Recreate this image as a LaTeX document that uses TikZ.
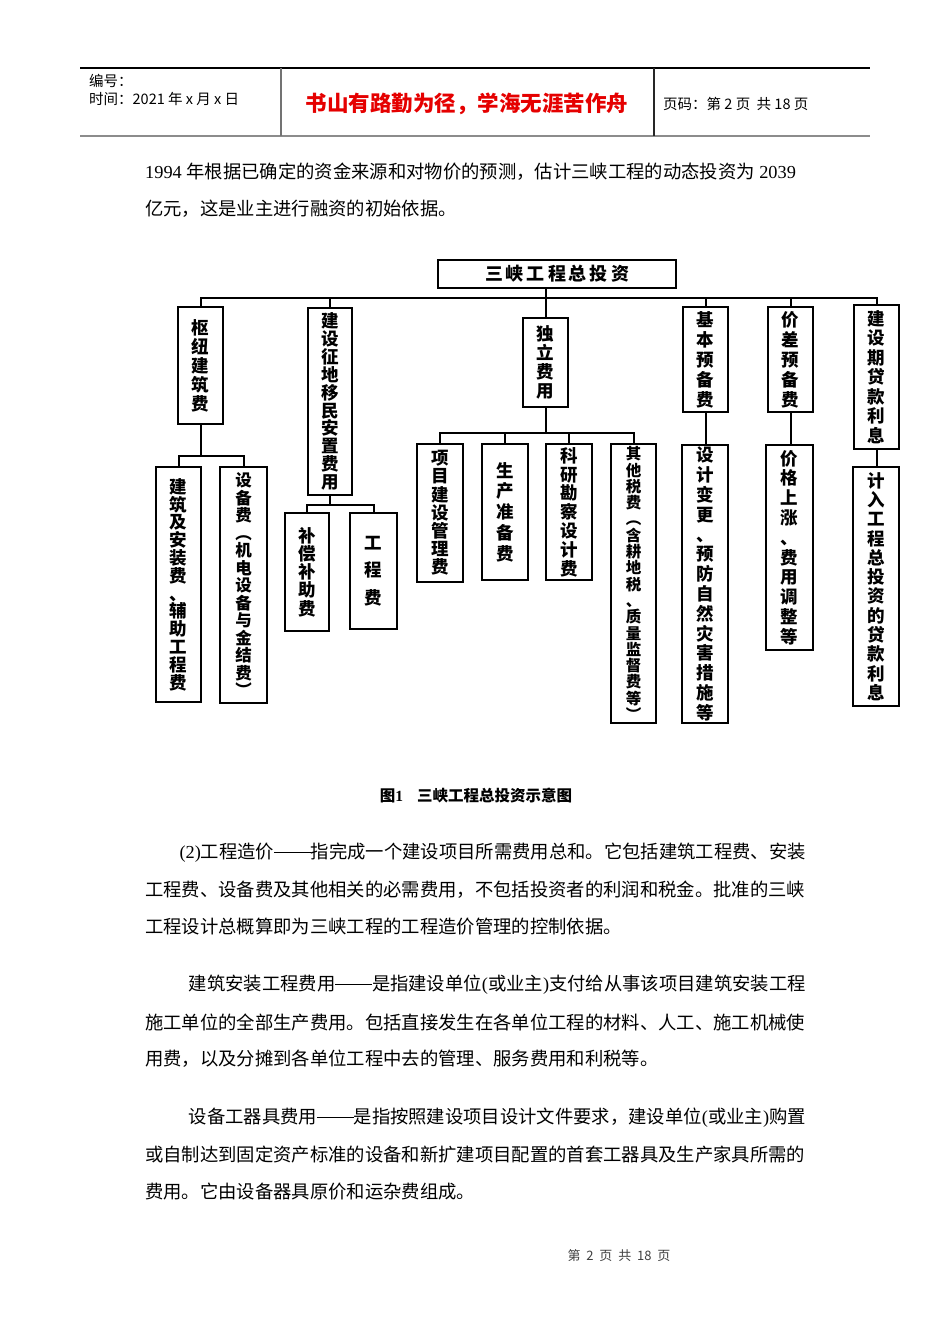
\documentclass[tikz,border=0pt]{standalone}
\usepackage{fontspec}
\setmainfont{Noto Sans CJK SC}
\newfontfamily\ser{Liberation Serif}
\newcommand{\ldash}{\makebox[2em]{\rule[0.32em]{2em}{0.055em}}}
\newcommand{\tightls}{\lineskiplimit-20pt\relax}
\begin{document}
\begin{tikzpicture}[x=1pt,y=-1pt,
  bx/.style={draw, line width=2pt, inner sep=0pt, align=center},
  lsp/.style={font=\bfseries\fontsize{17.5}{#1}\selectfont\tightls},
  lsq/.style 2 args={font=\bfseries\fontsize{#1}{#2}\selectfont\tightls},
  ln/.style={line width=2pt},
  bt/.style={inner sep=0pt, font=\fontsize{18.33}{22}\selectfont},
  hd/.style={inner sep=0pt, anchor=west, font=\fontsize{14.5}{17}\selectfont}]
\useasboundingbox (0,0) rectangle (950,1344);
\fill[white] (0,0) rectangle (950,1344);

% ---------- page header ----------
\draw[line width=1.2pt] (80,68) -- (870,68);
\draw[line width=2.2pt, black!45] (80,136) -- (870,136);
\draw[line width=1.2pt, black!55] (281,68) -- (281,136);
\draw[line width=1.2pt, black!85] (654,68) -- (654,136);
\node[hd] (h1) at (89,81) {编号：};
\node[hd] (h2) at (89,99) {时间：2021 年 x 月 x 日};
\node[inner sep=0pt, text=red!90!black, font=\bfseries\fontsize{21.5}{24}\selectfont] (h3) at (467,104) {书山有路勤为径，学海无涯苦作舟};
\node[hd] (h4) at (663,104) {页码：第 2 页\ \ 共 18 页};

% ---------- intro text ----------
\node[bt, anchor=west] (p1) at (145,172) {{\ser 1994 }年根据已确定的资金来源和对物价的预测，估计三峡工程的动态投资为{\ser\ 2039}};
\node[bt, anchor=west] (p2) at (145,209) {亿元，这是业主进行融资的初始依据。};

% ---------- diagram ----------
\node[bx, minimum width=238, minimum height=28, font=\bfseries\fontsize{18}{20}\selectfont] (T) at (557,274)
  {三\hspace{3pt}峡\hspace{3pt}工\hspace{3pt}程\hspace{3pt}总\hspace{3pt}投\hspace{3pt}资};

\node[bx, lsp=19, minimum width=45, minimum height=117] (A) at (200.5,365.5) {枢\\纽\\建\\筑\\费};
\node[bx, lsp=17.9, minimum width=44, minimum height=187] (B) at (330,401.5) {建\\设\\征\\地\\移\\民\\安\\置\\费\\用};
\node[bx, lsp=19, minimum width=45, minimum height=89] (C) at (545.5,362.5) {独\\立\\费\\用};
\node[bx, lsp=20, minimum width=45, minimum height=105] (D) at (705.5,359.5) {基\\本\\预\\备\\费};
\node[bx, lsp=20, minimum width=45, minimum height=105] (E) at (790.5,359.5) {价\\差\\预\\备\\费};
\node[bx, lsp=19.5, minimum width=45, minimum height=144] (F) at (876.5,377) {建\\设\\期\\贷\\款\\利\\息};

\node[bx, lsp=17.8, minimum width=45, minimum height=235] (A1) at (178.5,584.5) {建\\筑\\及\\安\\装\\费\\、\\辅\\助\\工\\程\\费};
\node[bx, lsq={16.5}{17.5}, minimum width=47, minimum height=236] (A2) at (243.5,585) {设\\备\\费\\︵\\机\\电\\设\\备\\与\\金\\结\\费\\︶};
\node[bx, lsp=18.3, minimum width=44, minimum height=118] (B1) at (307,572) {补\\偿\\补\\助\\费};
\node[bx, lsp=27.5, minimum width=47, minimum height=116] (B2) at (373.5,571) {工\\程\\费};
\node[bx, lsp=18.2, minimum width=46, minimum height=138] (C1) at (440,513) {项\\目\\建\\设\\管\\理\\费};
\node[bx, lsp=20.8, minimum width=46, minimum height=136] (C2) at (505,512) {生\\产\\准\\备\\费};
\node[bx, lsp=18.8, minimum width=46, minimum height=136] (C3) at (569,512) {科\\研\\勘\\察\\设\\计\\费};
\node[bx, lsq={15.5}{16.3}, minimum width=45, minimum height=279] (C4) at (633.5,583.5) {其\\他\\税\\费\\︵\\含\\耕\\地\\税\\、\\质\\量\\监\\督\\费\\等\\︶};
\node[bx, lsp=19.8, minimum width=46, minimum height=278] (D1) at (705,584) {设\\计\\变\\更\\、\\预\\防\\自\\然\\灾\\害\\措\\施\\等};
\node[bx, lsp=19.8, minimum width=47, minimum height=205] (E1) at (789.5,547.5) {价\\格\\上\\涨\\、\\费\\用\\调\\整\\等};
\node[bx, lsp=19.3, minimum width=46, minimum height=239] (F1) at (876,586.5) {计\\入\\工\\程\\总\\投\\资\\的\\贷\\款\\利\\息};

\coordinate (bus) at (0,298);
\coordinate (sa) at (0,456);
\coordinate (sb) at (0,505);
\coordinate (sc) at (0,433);

\draw[ln] (A.north) -- (A.north |- bus) -- (F.north |- bus) -- (F.north);
\draw[ln] (T.south -| C.north) -- (C.north);
\draw[ln] (B.north) -- (B.north |- bus);
\draw[ln] (D.north) -- (D.north |- bus);
\draw[ln] (E.north) -- (E.north |- bus);

\draw[ln] (A.south) -- (A.south |- sa);
\draw[ln] (A1.north) -- (A1.north |- sa) -- (A2.north |- sa) -- (A2.north);
\draw[ln] (B.south) -- (B.south |- sb);
\draw[ln] (B1.north) -- (B1.north |- sb) -- (B2.north |- sb) -- (B2.north);
\draw[ln] (C.south) -- (C.south |- sc);
\draw[ln] (C1.north) -- (C1.north |- sc) -- (C4.north |- sc) -- (C4.north);
\draw[ln] (C2.north) -- (C2.north |- sc);
\draw[ln] (C3.north) -- (C3.north |- sc);
\draw[ln] (D.south) -- (D.south |- D1.north);
\draw[ln] (E.south) -- (E.south |- E1.north);
\draw[ln] (F.south) -- (F.south |- F1.north);

\node[inner sep=0pt, font=\bfseries\fontsize{15.5}{18}\selectfont] (cap) at (476,796) {图{\ser 1}\hspace{14pt}三峡工程总投资示意图};

% ---------- body text ----------
\node[bt, anchor=east] (q1) at (806,853) {{\ser (2)}工程造价\ldash 指完成一个建设项目所需费用总和。它包括建筑工程费、安装};
\node[bt, anchor=west] (q2) at (145,890) {工程费、设备费及其他相关的必需费用，不包括投资者的利润和税金。批准的三峡};
\node[bt, anchor=west] (q3) at (145,927) {工程设计总概算即为三峡工程的工程造价管理的控制依据。};

\node[bt, anchor=east] (r1) at (806,985) {建筑安装工程费用\ldash 是指建设单位{\ser (}或业主{\ser )}支付给从事该项目建筑安装工程};
\node[bt, anchor=west] (r2) at (145,1022) {施工单位的全部生产费用。包括直接发生在各单位工程的材料、人工、施工机械使};
\node[bt, anchor=west] (r3) at (145,1059) {用费，以及分摊到各单位工程中去的管理、服务费用和利税等。};

\node[bt, anchor=east] (s1) at (806,1118) {设备工器具费用\ldash 是指按照建设项目设计文件要求，建设单位{\ser (}或业主{\ser )}购置};
\node[bt, anchor=west] (s2) at (145,1155) {或自制达到固定资产标准的设备和新扩建项目配置的首套工器具及生产家具所需的};
\node[bt, anchor=west] (s3) at (145,1192) {费用。它由设备器具原价和运杂费组成。};

\node[inner sep=0pt, text=black!75, font=\fontsize{13}{15}\selectfont] (foot) at (619,1256) {第\ \ 2\ \ 页\ \ 共\ \ 18\ \ 页};
\end{tikzpicture}
\end{document}
